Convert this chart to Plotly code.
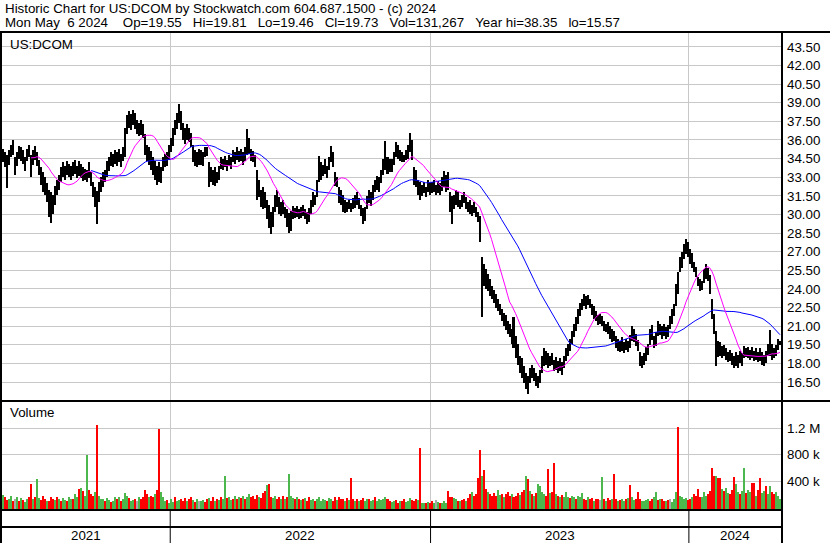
import plotly.graph_objects as go
import pandas as pd

# ---------------- data (one entry = two trading days) ----------------
years = ["2021", "2022", "2023", "2024"]
year_start = [0, 84, 214, 343]          # first entry index of each calendar year

high = [
35.3,35.0,34.8,35.2,35.6,36.0,34.6,35.0,35.5,35.4,
35.2,34.6,35.3,35.6,34.8,35.2,35.5,35.0,34.4,33.8,
33.4,33.0,32.5,32.0,31.8,31.6,32.3,32.8,33.2,33.8,
34.2,33.9,34.3,34.1,33.9,34.2,34.4,33.9,34.3,34.1,
33.8,33.7,33.6,34.2,33.4,32.6,32.2,31.9,32.6,33.0,
33.4,33.6,34.3,34.6,35.0,34.9,35.2,35.0,35.3,34.9,
35.4,37.0,38.0,38.3,38.1,38.4,38.2,37.6,37.4,37.6,
37.3,36.5,35.6,35.4,35.1,34.6,34.3,33.9,34.2,33.8,
34.6,34.9,35.0,35.6,36.2,37.0,37.6,38.2,38.9,38.3,
37.4,37.0,37.3,37.0,36.6,35.6,35.2,35.0,35.3,35.2,
35.0,35.4,35.4,34.2,33.8,33.6,33.8,33.4,33.9,34.6,
34.5,34.7,34.4,34.8,34.6,35.2,35.0,35.4,35.1,35.3,
35.0,35.4,36.9,36.2,35.3,35.1,34.8,33.6,32.8,32.0,
32.2,31.8,31.2,30.8,30.2,30.6,31.6,32.0,31.4,31.0,
31.2,30.6,30.4,30.1,30.3,30.7,30.5,30.7,30.4,30.6,
30.8,30.4,30.2,30.5,31.2,31.8,31.6,32.8,34.7,34.2,
34.0,34.5,33.9,34.6,35.5,35.0,33.4,33.0,32.2,32.0,
31.6,31.2,31.0,31.2,30.9,31.3,31.6,31.8,31.3,30.8,
30.5,30.6,31.5,32.0,31.8,32.4,32.8,33.1,33.0,33.6,
34.5,35.9,34.6,34.5,34.5,35.0,35.8,35.6,35.2,35.0,
34.8,35.2,35.6,36.6,36.0,33.8,33.6,32.8,32.6,32.4,
32.6,32.2,32.8,32.5,32.6,32.8,32.4,32.7,32.5,33.0,
33.5,33.2,33.4,31.8,31.5,31.6,32.0,31.8,31.2,31.6,
31.8,31.4,31.0,31.2,30.8,31.0,30.6,30.2,29.9,26.6,
26.0,25.6,25.2,24.8,24.2,23.9,23.6,23.2,22.8,22.4,
22.1,21.9,21.4,21.2,20.8,21.7,20.2,19.6,18.6,18.4,
17.8,17.2,17.0,17.6,17.9,17.6,17.2,17.0,17.5,18.6,
19.2,19.0,18.8,18.6,18.8,18.3,18.5,18.2,18.4,18.1,
18.6,19.2,19.6,20.0,20.6,21.2,21.7,22.4,22.9,23.2,
23.6,23.4,23.5,23.2,22.8,22.6,22.2,21.9,22.0,21.8,
21.4,21.2,21.3,21.0,20.8,20.6,20.2,20.0,19.8,20.1,
19.7,20.0,19.8,20.3,21.0,20.8,20.4,19.9,18.9,18.6,
18.8,19.3,19.6,20.8,21.1,20.2,20.5,21.4,21.2,21.0,
21.2,20.9,21.1,21.8,22.4,22.8,24.4,25.4,26.6,27.0,
27.6,28.0,27.8,27.2,26.9,26.2,25.8,25.0,24.8,24.6,
25.6,26.0,25.7,25.1,23.2,22.0,20.6,19.8,19.7,19.4,
19.5,19.2,18.9,19.1,18.8,18.6,18.9,18.7,19.0,18.8,
19.4,19.2,19.3,19.1,19.3,19.0,19.2,18.9,19.2,18.9,
18.7,19.0,19.6,20.7,19.6,19.2,19.5,20.0,19.81]

low = [
34.2,33.8,32.1,34.0,34.6,34.8,33.2,33.9,34.5,34.3,
34.1,33.5,34.3,34.6,33.0,34.0,34.4,33.9,33.2,32.4,
31.8,31.6,31.0,29.8,29.3,30.0,30.8,31.6,32.0,32.6,
33.0,32.8,33.2,33.0,32.8,33.1,33.3,32.9,33.1,32.9,
32.7,32.8,32.6,32.9,32.3,31.4,30.6,29.2,31.0,31.8,
32.2,32.6,33.0,33.5,33.9,33.8,34.1,33.9,34.2,33.8,
34.3,34.6,36.5,37.0,36.8,37.2,36.9,36.5,36.3,36.4,
36.2,34.8,34.3,34.0,33.6,33.2,32.8,32.4,32.6,32.5,
33.5,33.8,33.9,34.4,35.0,35.5,36.4,36.9,37.4,36.8,
36.0,35.7,36.0,35.8,35.4,34.2,33.9,33.8,34.0,34.0,
33.9,34.6,34.7,32.2,32.6,32.4,32.3,32.5,32.8,33.7,
33.6,33.8,33.5,33.9,33.7,34.2,34.1,34.4,34.2,34.3,
34.0,34.3,34.8,34.9,34.3,34.2,33.8,31.2,31.4,30.6,
30.4,30.5,29.6,28.9,28.4,29.0,30.2,30.6,30.0,29.9,
30.0,29.7,29.0,28.5,28.7,29.6,29.7,29.8,29.6,29.7,
29.9,29.6,29.2,29.4,30.0,30.6,30.8,31.4,32.6,32.8,
33.1,33.3,32.9,33.6,34.2,33.8,32.3,32.2,30.9,30.8,
30.2,30.1,30.2,30.4,30.2,30.4,30.5,30.8,30.4,29.9,
29.2,29.5,30.4,30.9,30.7,31.2,31.8,32.0,31.8,32.5,
33.2,33.6,33.3,33.4,33.4,34.0,34.6,34.5,34.3,34.2,
34.2,34.4,34.5,35.0,34.4,32.4,32.2,31.6,31.2,31.5,
31.7,31.4,31.8,31.6,31.7,31.8,31.6,31.7,31.6,31.9,
32.2,31.8,32.0,30.2,29.2,30.4,30.8,30.6,30.4,30.6,
30.9,30.4,30.2,30.0,29.9,30.1,29.8,29.4,27.8,21.7,
24.2,24.0,23.8,23.4,23.2,22.9,22.5,22.2,21.9,21.4,
21.0,20.7,20.4,20.1,19.6,19.2,18.4,17.9,17.2,16.8,
16.4,15.9,15.5,16.4,16.8,16.6,16.2,16.0,16.4,17.2,
17.8,17.9,17.6,17.8,17.9,17.4,17.5,17.2,17.4,17.1,
17.6,18.2,18.6,19.0,19.6,20.1,20.6,21.2,21.8,22.3,
22.6,22.4,22.7,22.5,21.9,21.6,21.4,21.1,21.2,21.0,
20.6,20.5,20.4,20.0,19.7,19.8,19.2,19.0,18.9,19.0,
18.8,19.1,18.9,19.2,19.8,19.7,19.4,19.0,17.8,17.6,
17.9,18.2,18.7,19.5,19.9,19.2,19.4,20.2,20.3,20.0,
20.2,20.0,20.1,20.8,21.2,21.8,22.6,23.6,25.4,25.7,
26.4,26.8,26.6,26.0,25.7,25.4,25.0,24.2,23.8,23.9,
24.5,24.8,24.6,23.6,21.6,20.4,17.8,18.5,18.6,18.4,
18.6,18.3,18.1,18.2,17.9,17.6,17.8,17.6,18.0,17.8,
18.4,18.5,18.4,18.3,18.4,18.2,18.3,18.1,18.2,17.9,
17.8,18.0,18.6,18.6,18.3,18.4,18.6,19.1,19.46]

# volume in thousands of shares
volume = [
190,150,110,130,180,90,120,160,100,140,
110,80,120,150,354,130,160,430,140,110,
170,120,100,90,160,130,110,150,120,100,
140,110,90,160,120,130,210,150,280,300,
250,180,790,260,200,170,230,1250,180,130,
120,90,140,110,80,100,150,120,160,90,
120,225,180,140,90,110,130,100,160,120,
150,270,200,150,180,160,200,270,1190,230,
150,90,110,70,120,80,150,90,110,130,
100,140,90,120,160,110,80,130,100,90,
110,80,120,140,100,160,90,130,110,150,
120,480,140,160,110,130,170,120,150,140,
180,130,160,200,150,170,130,190,160,140,
220,250,340,354,160,140,180,120,150,130,
170,130,160,508,180,140,120,150,130,110,
120,140,100,150,110,130,90,120,150,100,
130,110,90,140,120,100,150,110,160,130,
120,90,140,110,450,130,100,120,90,110,
140,100,120,130,90,110,150,100,120,110,
130,150,120,100,80,90,110,70,100,90,
120,80,100,140,110,90,120,110,900,70,
60,70,80,60,90,70,110,80,60,70,
90,70,250,160,150,140,120,100,90,110,
120,100,140,210,230,180,200,450,880,470,
575,280,230,200,170,220,180,260,190,200,
160,210,240,180,200,150,170,220,190,240,
260,470,430,250,200,180,220,350,320,240,
200,180,590,220,230,670,200,180,160,190,
150,230,160,140,180,150,130,170,150,220,
130,110,150,120,140,100,130,120,110,467,
120,100,140,110,130,508,120,90,110,130,
100,120,140,344,150,110,130,230,120,100,
90,110,130,100,120,150,230,110,130,120,
100,90,110,120,80,130,230,1220,180,150,
120,140,110,130,160,200,180,282,150,160,
230,180,200,250,595,470,480,450,440,280,
250,300,220,200,260,467,350,240,200,250,
605,220,260,240,370,370,180,260,451,220,
250,330,200,330,240,200,230,170,131]

# u = up period (green volume), d = down period (red), n = unchanged (grey)
direction_groups = [
    "udduudnudu", "duudduduud", "ddudddudud", "uuduuduudu", "duuddduduu",
    "uduuduudud", "uuuduudnud", "dddudduddu", "uuduuuduud", "dduddudunu",
    "udduddudud", "uuduududud", "uduuddddud", "ddudduuddu", "duduuududu",
    "dudduuduuu", "uuduuddudd", "dududdudud", "duuduuduuu", "uudduuddud",
    "duuudddudu", "ududdunudu", "uuddduudud", "dudduddddu", "ddudddduud",
    "udddudddud", "dudududuuu", "udduddudud", "uuuduuduuu", "ddudduddnu",
    "dudduddudu", "ududuudddu", "uuudduudud", "dudnuuuduu", "uudduddddu",
    "uudddduddu", "duuddduudu", "uduudduddu", "uduudduuu"]
direction = list("".join(direction_groups))

header1 = "Historic Chart for US:DCOM by Stockwatch.com 604.687.1500 - (c) 2024"
header2 = ("Mon May  6 2024    Op=19.55   Hi=19.81   Lo=19.46   Cl=19.73   "
           "Vol=131,267   Year hi=38.35   lo=15.57")
symbol = "US:DCOM"
price_ticks = [16.5 + 1.5 * k for k in range(19)]
vol_ticks = [400, 800, 1200]
vol_tick_text = ["400 k", "800 k", "1.2 M"]

n = len(high)
assert len(low) == n and len(volume) == n and len(direction) == n, (n, len(low), len(volume), len(direction))

# ---------------- geometry helpers (pixels -> paper) ----------------
W, H = 830, 543
def fx(p):
    return p / W
def fy(p):
    return 1 - p / H

FONT = "Arial, Liberation Sans, sans-serif"
FS = 13.33
GRID = "#c8c8c8"
idx = list(range(n))
mid = [(h + l) / 2 for h, l in zip(high, low)]
ma_fast = pd.Series(mid).rolling(15).mean()
ma_slow = pd.Series(mid).rolling(45).mean()
dir_color = {"u": "#4cb74c", "d": "#ff0000", "n": "#a8a8a8"}
vol_colors = [dir_color[c] for c in direction]

VOL_FLOOR = -41
PRICE_LO, PRICE_HI = 15.05, 44.62
VOL_TOP = 1605

fig = go.Figure()
fig.add_trace(go.Bar(
    x=idx, y=[h - l for h, l in zip(high, low)], base=low, width=1.0,
    marker=dict(color="black", line=dict(width=0)), xaxis="x", yaxis="y"))
fig.add_trace(go.Scatter(x=idx, y=ma_slow, mode="lines",
                         line=dict(color="#0000ff", width=1), xaxis="x", yaxis="y"))
fig.add_trace(go.Scatter(x=idx, y=ma_fast, mode="lines",
                         line=dict(color="#ff00ff", width=1), xaxis="x", yaxis="y"))
fig.add_trace(go.Bar(
    x=idx, y=[v - VOL_FLOOR for v in volume], base=VOL_FLOOR, width=1.0,
    marker=dict(color=vol_colors, line=dict(width=0)), xaxis="x2", yaxis="y2"))

bounds = [s - 0.5 for s in year_start[1:]]
xr = [-0.5, n - 0.5]
xdom = [fx(2), fx(781)]

axis_common = dict(showline=False, zeroline=False, ticks="", fixedrange=True)
tickfont = dict(size=FS, family=FONT, color="black")
fig.update_layout(
    width=W, height=H, margin=dict(l=0, r=0, t=0, b=0),
    paper_bgcolor="white", plot_bgcolor="white", showlegend=False,
    bargap=0, barmode="overlay",
    font=dict(family=FONT, size=FS, color="black"),
    xaxis=dict(domain=xdom, range=xr, anchor="y", tickvals=bounds,
               showticklabels=False, showgrid=True, gridcolor=GRID, gridwidth=1,
               **axis_common),
    xaxis2=dict(domain=xdom, range=xr, anchor="y2", tickvals=bounds,
                showticklabels=False, showgrid=True, gridcolor=GRID, gridwidth=1,
                **axis_common),
    yaxis=dict(domain=[fy(400), fy(33)], range=[PRICE_LO, PRICE_HI], side="right",
               anchor="x", tickvals=price_ticks,
               ticktext=[f"{v:.2f}" for v in price_ticks],
               showgrid=True, gridcolor=GRID, gridwidth=1,
               ticklabelstandoff=5, tickfont=tickfont, **axis_common),
    yaxis2=dict(domain=[fy(510), fy(402)], range=[VOL_FLOOR, VOL_TOP], side="right",
                anchor="x2", tickvals=vol_ticks, ticktext=vol_tick_text,
                showgrid=True, gridcolor=GRID, gridwidth=1,
                ticklabelstandoff=5, tickfont=tickfont, **axis_common),
)

# frame lines
blk = dict(color="black", width=2)
shapes = [
    dict(type="line", xref="paper", yref="paper", x0=0, x1=1, y0=fy(32), y1=fy(32), line=blk),
    dict(type="line", xref="paper", yref="paper", x0=fx(1), x1=fx(1), y0=fy(31), y1=0, line=blk),
    dict(type="line", xref="paper", yref="paper", x0=fx(782), x1=fx(782), y0=fy(31), y1=0, line=blk),
    dict(type="line", xref="paper", yref="paper", x0=0, x1=1, y0=fy(401), y1=fy(401), line=blk),
    dict(type="line", xref="paper", yref="paper", x0=0, x1=fx(782), y0=fy(510), y1=fy(510), line=blk),
    dict(type="line", xref="paper", yref="paper", x0=0, x1=fx(782), y0=fy(527), y1=fy(527), line=blk),
]
for b in bounds:
    shapes.append(dict(type="line", xref="x", yref="paper", x0=b, x1=b,
                       y0=fy(510), y1=0, line=dict(color="black", width=1)))
fig.update_layout(shapes=shapes)

ann = [
    dict(text=header1.replace(" ", "\u00a0"), x=fx(3), y=fy(8.5)),
    dict(text=header2.replace(" ", "\u00a0"), x=fx(3), y=fy(22.5)),
    dict(text=symbol, x=fx(8), y=fy(44)),
    dict(text="Volume", x=fx(8), y=fy(413)),
]
annotations = []
for a in ann:
    annotations.append(dict(text=a["text"], x=a["x"], y=a["y"], xref="paper", yref="paper",
                            xanchor="left", yanchor="middle", showarrow=False,
                            font=dict(family=FONT, size=FS, color="black")))
ends = year_start[1:] + [n]
for label, s, e in zip(years, year_start, ends):
    annotations.append(dict(text=label, x=(s + e - 1) / 2, y=fy(535), xref="x", yref="paper",
                            xanchor="center", yanchor="middle", showarrow=False,
                            font=dict(family=FONT, size=FS, color="black")))
fig.update_layout(annotations=annotations)

fig.write_html("out.html", config={"displayModeBar": False},
               post_script="document.body.style.margin='0';document.body.style.overflow='hidden';")
